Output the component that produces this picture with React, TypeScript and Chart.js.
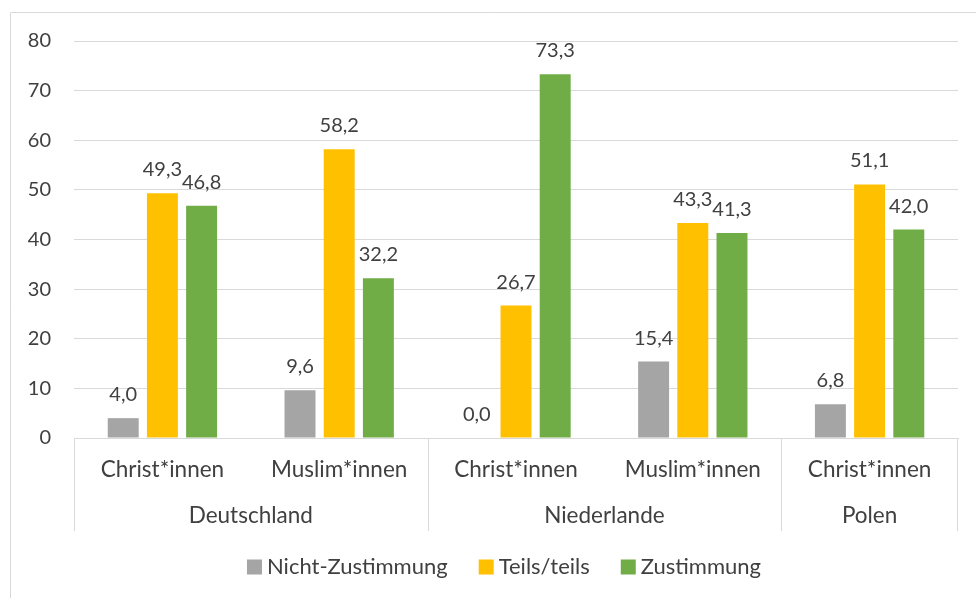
import React, { useEffect, useRef } from "react";
import { Chart, registerables } from "chart.js";

Chart.register(...registerables);

// ---- data ----
const subCategories = ["Christ*innen", "Muslim*innen", "Christ*innen", "Muslim*innen", "Christ*innen"];
const countries = ["Deutschland", "Deutschland", "Niederlande", "Niederlande", "Polen"];
const seriesNames = ["Nicht-Zustimmung", "Teils/teils", "Zustimmung"];
const nichtZustimmung = [4.0, 9.6, 0.0, 15.4, 6.8];
const teilsTeils = [49.3, 58.2, 26.7, 43.3, 51.1];
const zustimmung = [46.8, 32.2, 73.3, 41.3, 42.0];
const yMin = 0;
const yMax = 80;
const yStep = 10;

const COLORS = ["#A5A5A5", "#FFC000", "#70AD47"];
const TEXT = "#404040";
const LINE = "#D9D9D9";
const FONT = "Lato";
const FS_TICK = 20;
const FS_DATA = 20;
const FS_CAT = 22.5;
const FS_LEG = 22;

const fmt = (v: number) => v.toFixed(1).replace(".", ",");

const customPlugin = {
  id: "customExcel",
  afterDatasetsDraw(chart: any) {
    const ctx = chart.ctx;
    ctx.save();
    ctx.font = `${FS_DATA}px ${FONT}`;
    ctx.fillStyle = TEXT;
    ctx.textAlign = "center";
    ctx.textBaseline = "alphabetic";
    chart.data.datasets.forEach((ds: any, di: number) => {
      const meta = chart.getDatasetMeta(di);
      meta.data.forEach((bar: any, i: number) => {
        ctx.fillText(fmt(ds.data[i]), bar.x, bar.y - 17);
      });
    });
    ctx.restore();
  },
  afterDraw(chart: any) {
    const ctx = chart.ctx;
    const xs = chart.scales.x;
    const area = chart.chartArea;
    ctx.save();
    // outer frame
    ctx.strokeStyle = LINE;
    ctx.lineWidth = 1;
    ctx.beginPath();
    ctx.moveTo(10.5, chart.height);
    ctx.lineTo(10.5, 12.5);
    ctx.lineTo(chart.width, 12.5);
    ctx.stroke();

    // category labels
    ctx.font = `${FS_CAT}px ${FONT}`;
    ctx.fillStyle = TEXT;
    ctx.textAlign = "center";
    ctx.textBaseline = "middle";
    subCategories.forEach((lab, i) => {
      ctx.fillText(lab, xs.getPixelForValue(i), 470);
    });

    // group runs
    const n = subCategories.length;
    const boundary = (i: number) => {
      if (i <= 0) return area.left;
      if (i >= n) return area.right;
      return (xs.getPixelForValue(i - 1) + xs.getPixelForValue(i)) / 2;
    };
    const sepBottom = 531;
    let start = 0;
    for (let i = 1; i <= n; i++) {
      if (i === n || countries[i] !== countries[start]) {
        const l = boundary(start);
        const r = boundary(i);
        ctx.beginPath();
        ctx.moveTo(Math.round(l) + 0.5, area.bottom);
        ctx.lineTo(Math.round(l) + 0.5, sepBottom);
        if (i === n) {
          ctx.moveTo(Math.round(r) - 0.5, area.bottom);
          ctx.lineTo(Math.round(r) - 0.5, sepBottom);
        }
        ctx.stroke();
        ctx.fillText(countries[start], (l + r) / 2, 516);
        start = i;
      }
    }

    // legend
    ctx.font = `${FS_LEG}px ${FONT}`;
    const box = 15;
    const gapBox = 5;
    const gapItem = 31;
    const widths = seriesNames.map((s) => ctx.measureText(s).width);
    const total =
      widths.reduce((a, b) => a + b, 0) + seriesNames.length * (box + gapBox) + gapItem * (seriesNames.length - 1);
    let x = 504 - total / 2;
    const ly = 567;
    ctx.textAlign = "left";
    seriesNames.forEach((s, i) => {
      ctx.fillStyle = COLORS[i];
      ctx.fillRect(x, ly - box / 2, box, box);
      ctx.fillStyle = TEXT;
      ctx.fillText(s, x + box + gapBox, ly);
      x += box + gapBox + widths[i] + gapItem;
    });
    ctx.restore();
  },
};

export default function App() {
  const ref = useRef<HTMLCanvasElement>(null);
  useEffect(() => {
    if (!ref.current) return;
    const chart = new Chart(ref.current, {
      type: "bar",
      data: {
        labels: subCategories,
        datasets: [nichtZustimmung, teilsTeils, zustimmung].map((d, i) => ({
          label: seriesNames[i],
          data: d,
          backgroundColor: COLORS[i],
          borderWidth: 0,
          categoryPercentage: 0.665,
          barPercentage: 0.79,
        })),
      },
      options: {
        responsive: false,
        animation: false,
        devicePixelRatio: 1,
        layout: { padding: { top: 41, right: 18, left: 0, bottom: 0 } },
        plugins: { legend: { display: false }, tooltip: { enabled: false } },
        scales: {
          x: {
            grid: { display: false },
            border: { display: true, color: LINE },
            ticks: { display: false },
            afterFit: (s: any) => {
              s.height = 160;
            },
          },
          y: {
            min: yMin,
            max: yMax,
            ticks: {
              stepSize: yStep,
              padding: 23,
              color: TEXT,
              font: { family: FONT, size: FS_TICK },
            },
            grid: { color: LINE, drawTicks: false },
            border: { display: false },
            afterFit: (s: any) => {
              s.width = 74;
            },
          },
        },
      },
      plugins: [customPlugin],
    });
    return () => chart.destroy();
  }, []);
  return (
    <div style={{ position: "absolute", left: 0, top: 0, background: "#fff" }}>
      <canvas ref={ref} width={976} height={598} />
    </div>
  );
}
